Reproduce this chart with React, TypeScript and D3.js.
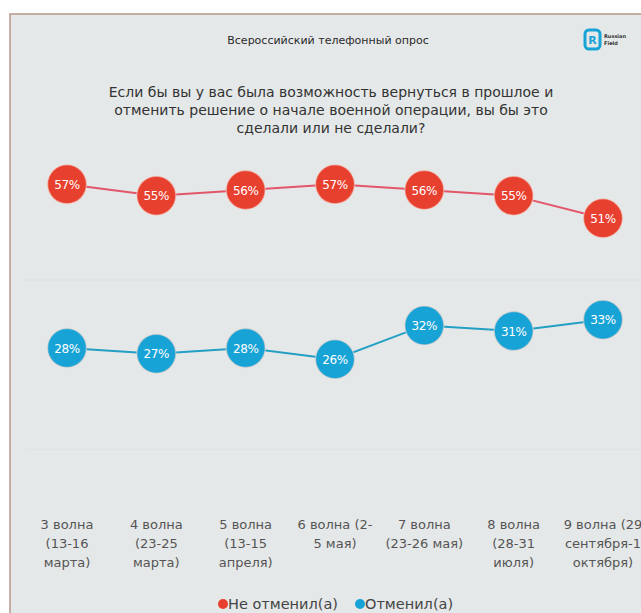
import React from "react";
import * as d3 from "d3";

const categories = ["w3", "w4", "w5", "w6", "w7", "w8", "w9"];
const categoryLabels = [
  ["3 волна", "(13-16", "марта)"],
  ["4 волна", "(23-25", "марта)"],
  ["5 волна", "(13-15", "апреля)"],
  ["6 волна (2-", "5 мая)"],
  ["7 волна", "(23-26 мая)"],
  ["8 волна", "(28-31", "июля)"],
  ["9 волна (29", "сентября-1", "октября)"],
];
const notCancelled = [57, 55, 56, 57, 56, 55, 51];
const cancelled = [28, 27, 28, 26, 32, 31, 33];
const gridValues = [10, 40];
const seriesNames = ["Не отменил(а)", "Отменил(а)"];

const W = 641;
const H = 613;
const RED = "#e8402f";
const BLUE = "#17a3d6";
const FONT = "'DejaVu Sans', Verdana, sans-serif";

export default function App() {
  const x = d3.scalePoint<string>().domain(categories).range([67, 603]);
  const y = d3.scaleLinear().domain([0, 70]).range([506, 111]);
  const line = d3
    .line<number>()
    .x((_, i) => x(categories[i]) as number)
    .y((d) => y(d));

  const series = [
    { values: notCancelled, color: RED, lineColor: "#e2566a" },
    { values: cancelled, color: BLUE, lineColor: "#239fc4" },
  ];

  return (
    <svg
      width={W}
      height={H}
      style={{ position: "absolute", left: 0, top: 0, display: "block" }}
      fontFamily={FONT}
    >
      <rect x={0} y={0} width={W} height={H} fill="#ffffff" />
      <rect x={10} y={14} width={W} height={H} fill="#e5e8e8" stroke="#b8978a" strokeWidth={1.5} />

      {/* grid */}
      {gridValues.map((g) => (
        <line key={g} x1={25} x2={W} y1={y(g)} y2={y(g)} stroke="#e0e3e3" strokeWidth={2} />
      ))}

      {/* header */}
      <text x={328} y={44} textAnchor="middle" fontSize={11} fill="#2a2a2a">
        Всероссийский телефонный опрос
      </text>
      <g transform="translate(585,30)">
        <rect x={0} y={0} width={15} height={19} rx={4} fill="none" stroke="#17a3d6" strokeWidth={3} />
        <text x={7.5} y={14} textAnchor="middle" fontSize={11} fontWeight={700} fill="#17a3d6">R</text>
        <text x={19} y={8} fontSize={5} fontWeight={700} fill="#333">Russian</text>
        <text x={19} y={15} fontSize={5} fontWeight={700} fill="#333">Field</text>
      </g>

      <text textAnchor="middle" fontSize={14} fill="#333">
        <tspan x={331} y={97}>Если бы вы у вас была возможность вернуться в прошлое и</tspan>
        <tspan x={331} y={115}>отменить решение о начале военной операции, вы бы это</tspan>
        <tspan x={331} y={133}>сделали или не сделали?</tspan>
      </text>

      {/* lines */}
      {series.map((s, si) => (
        <path key={si} d={line(s.values) || ""} fill="none" stroke={s.lineColor} strokeWidth={2} />
      ))}
      {series.map((s, si) =>
        s.values.map((v, i) => (
          <g key={`${si}-${i}`} transform={`translate(${x(categories[i])},${y(v)})`}>
            <circle r={19.5} fill={s.color} stroke="#f3d9d2" strokeOpacity={0.5} strokeWidth={1.5} />
            <text y={4.5} textAnchor="middle" fontSize={12} fill="#ffffff" letterSpacing={-0.4}>
              {v}%
            </text>
          </g>
        ))
      )}

      {/* x labels */}
      {categoryLabels.map((lines, i) => (
        <text key={i} textAnchor="middle" fontSize={13} fill="#555">
          {lines.map((l, j) => (
            <tspan key={j} x={x(categories[i])} y={529 + j * 19}>
              {l}
            </tspan>
          ))}
        </text>
      ))}

      {/* legend */}
      <circle cx={223} cy={604} r={5} fill={RED} />
      <text x={228} y={609} fontSize={14.5} fill="#444">{seriesNames[0]}</text>
      <circle cx={360} cy={604} r={5} fill={BLUE} />
      <text x={365} y={609} fontSize={14.5} fill="#444">{seriesNames[1]}</text>
    </svg>
  );
}
